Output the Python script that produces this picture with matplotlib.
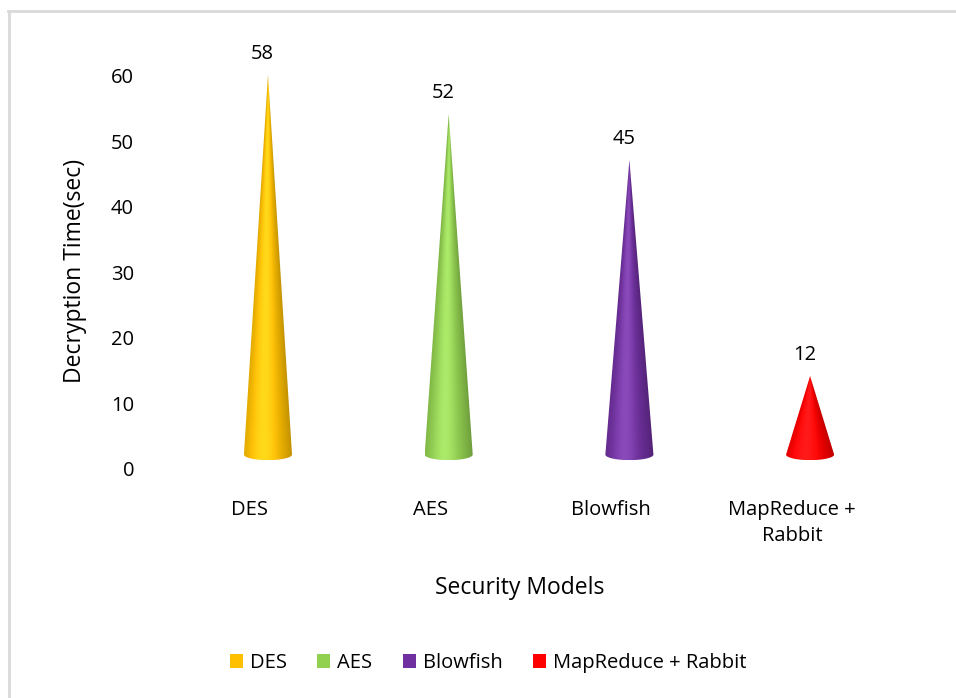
import numpy as np
import matplotlib
matplotlib.use('Agg')
import matplotlib.pyplot as plt
from matplotlib.path import Path
from matplotlib.patches import PathPatch, Patch
from matplotlib.lines import Line2D
from matplotlib.colors import to_rgb

plt.rcParams['font.family'] = ['Open Sans', 'DejaVu Sans']

# data
models = ['DES', 'AES', 'Blowfish', 'MapReduce +\nRabbit']
legend_names = ['DES', 'AES', 'Blowfish', 'MapReduce + Rabbit']
times = [58, 52, 45, 12]
colors = ['#FFC000', '#92D050', '#7030A0', '#FF0000']

# 3d look
lift = 2.2        # floor offset of the cones
half_w = 0.133    # base half width (x units)
ell_h = 0.85      # base ellipse half height (y units)
lab_shift = -0.1  # category labels sit a bit left of cones

fs = 14.5

fig = plt.figure(figsize=(9.56, 6.98), dpi=100)
ax = fig.add_axes([0.1461, 0.3281, 0.8147, 0.6006])
ax.set_xlim(-0.71, 3.6)
ax.set_ylim(0, 64)


def shade(c, t):
    c = np.array(to_rgb(c))
    k = np.clip(1 - ((t + 0.2) / 1.2) ** 2, 0, 1)
    rgb = c[None, None, :] * (0.74 + 0.26 * k[..., None]) + 0.10 * (k[..., None] ** 6)
    return np.clip(rgb, 0, 1)


for i, (v, c) in enumerate(zip(times, colors)):
    base = lift
    tip = v + lift
    # outline: tip -> left base -> lower half ellipse -> right base
    th = np.linspace(np.pi, 2 * np.pi, 60)
    ex = i + half_w * np.cos(th)
    ey = base + ell_h * np.sin(th)
    verts = [(i, tip)] + list(zip(ex, ey)) + [(i, tip)]
    codes = [Path.MOVETO] + [Path.LINETO] * (len(verts) - 2) + [Path.CLOSEPOLY]
    patch = PathPatch(Path(verts, codes), transform=ax.transData,
                      facecolor='none', edgecolor='none')
    ax.add_patch(patch)

    xs = np.linspace(i - half_w, i + half_w, 120)
    ys = np.linspace(base - ell_h, tip, 400)
    X, Y = np.meshgrid(xs, ys)
    w = np.where(Y > base, half_w * (tip - Y) / (tip - base), half_w)
    w = np.maximum(w, 1e-4)
    T = np.clip((X - i) / w, -1, 1)
    img = shade(c, T)
    im = ax.imshow(img, extent=[i - half_w, i + half_w, base - ell_h, tip],
                   origin='lower', aspect='auto', interpolation='bilinear')
    im.set_clip_path(patch)

    ax.text(i - 0.03, tip + 3.2, str(v), ha='center', va='center', fontsize=fs)

ax.set_xticks([i + lab_shift for i in range(len(models))])
ax.set_xticklabels(models, fontsize=fs, linespacing=1.45)
ax.set_yticks(range(0, 61, 10))
ax.tick_params(axis='y', labelsize=fs, length=0, pad=4)
ax.tick_params(axis='x', length=0, pad=22)
for s in ax.spines.values():
    s.set_visible(False)

fig.text(75 / 956, 1 - 271 / 698, 'Decryption Time(sec)', rotation=90,
         ha='center', va='center', fontsize=16.5)
fig.text(520 / 956, 1 - 588 / 698, 'Security Models', ha='center',
         va='center', fontsize=16.5)

handles = [Patch(facecolor=c, edgecolor='none') for c in colors]
fig.legend(handles, legend_names, loc='center', bbox_to_anchor=(488 / 956, 1 - 663 / 698),
           ncol=4, frameon=False, fontsize=fs, handlelength=0.65, handleheight=0.65,
           handletextpad=0.35, columnspacing=1.5)

# chart frame
fc = '#D9D9D9'
fig.add_artist(Line2D([8.5 / 956, 8.5 / 956], [0, 1 - 10.5 / 698], color=fc, lw=2,
                      transform=fig.transFigure))
fig.add_artist(Line2D([8 / 956, 1], [1 - 10.5 / 698, 1 - 10.5 / 698], color=fc, lw=2,
                      transform=fig.transFigure))

fig.savefig('out.png', dpi=100)
